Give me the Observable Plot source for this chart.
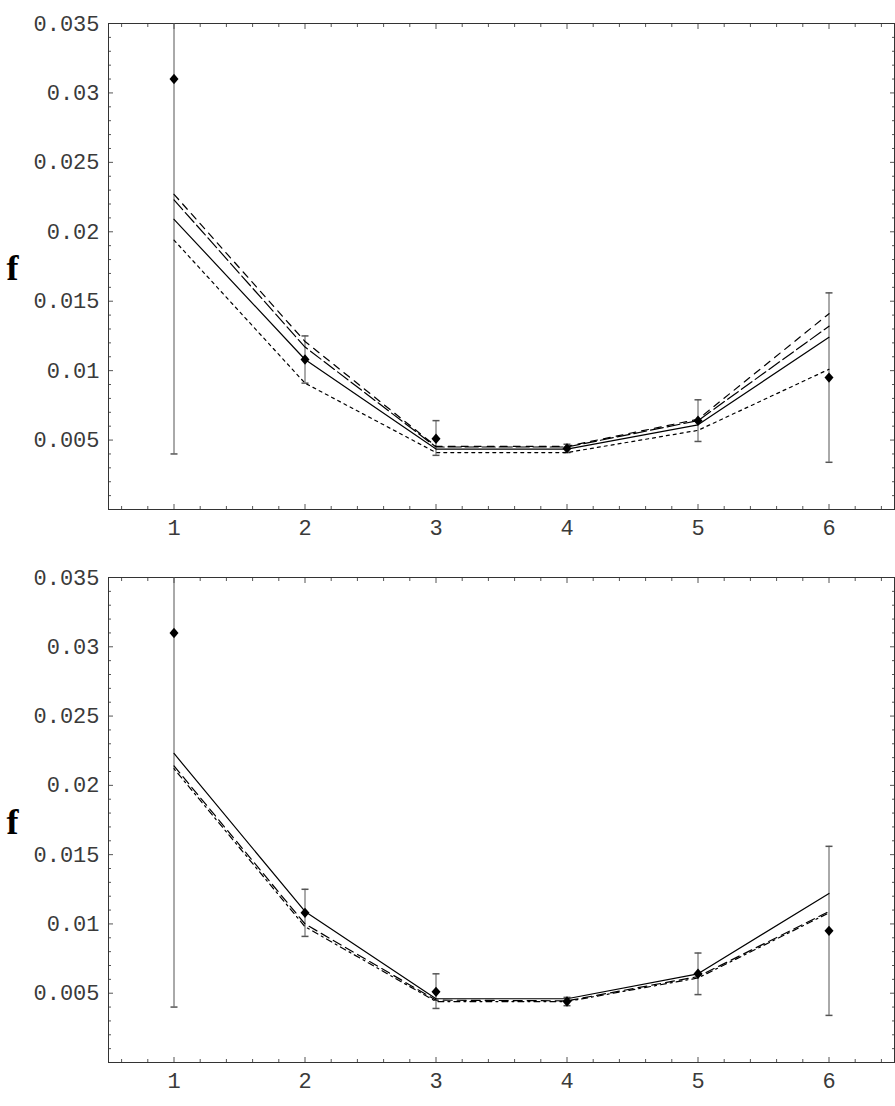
<!DOCTYPE html>
<html>
<head>
<meta charset="utf-8">
<script src="https://cdn.jsdelivr.net/npm/d3@7"></script>
<script src="https://cdn.jsdelivr.net/npm/@observablehq/plot@0.6"></script>
<style>
  html, body { margin: 0; padding: 0; background: #fff; }
  #chart svg { display: block; }
</style>
</head>
<body>
<div id="chart"></div>
<script>
// ---- data ----
const xs = [1, 2, 3, 4, 5, 6];
const fMeas = [0.031, 0.0108, 0.0051, 0.0044, 0.0064, 0.0095];
const fLow  = [0.004, 0.0091, 0.0039, 0.0041, 0.0049, 0.0034];
const fHigh = [0.058, 0.0125, 0.0064, 0.0047, 0.0079, 0.0156];

// top panel curves
const topSolid   = [0.0209, 0.0108, 0.00435, 0.00435, 0.0061, 0.0124];
const topShort   = [0.0194, 0.0091, 0.0041, 0.0041, 0.0057, 0.0101];
const topMedium  = [0.0227, 0.0121, 0.00455, 0.00455, 0.0065, 0.0141];
const topLong    = [0.0223, 0.0117, 0.0045, 0.0045, 0.0064, 0.0132];

// bottom panel curves
const botSolid   = [0.0223, 0.0109, 0.0046, 0.0046, 0.0064, 0.0122];
const botDashA   = [0.0214, 0.0100, 0.0045, 0.00445, 0.0062, 0.0109];
const botDashB   = [0.0212, 0.0098, 0.0044, 0.0044, 0.0061, 0.0108];

// axes
const yMajor = [0.005, 0.01, 0.015, 0.02, 0.025, 0.03, 0.035];
const yMinor = d3.range(1, 35).filter(i => i % 5 !== 0).map(i => i / 1000);
const xMajor = [1, 2, 3, 4, 5, 6];
const xMinor = d3.range(3, 33).filter(i => i % 5 !== 0).map(i => i / 5);

const measured = xs.map((x, i) => ({x, f: fMeas[i], lo: fLow[i], hi: fHigh[i]}));
function series(vals, name) { return xs.map((x, i) => ({x, f: vals[i], s: name})); }

const diamond = {
  draw(ctx, size) {
    const w = 4.5, h = 5.2;
    ctx.moveTo(0, -h); ctx.lineTo(w, 0); ctx.lineTo(0, h); ctx.lineTo(-w, 0); ctx.closePath();
  }
};
const cap = {
  draw(ctx, size) { ctx.moveTo(-3.5, 0); ctx.lineTo(3.5, 0); }
};

const tickColor = "#555";

function panel(curves, marginTop) {
  const marks = [
    Plot.axisY({ticks: yMinor, anchor: "left", tickSize: -3, text: null, label: null, stroke: tickColor}),
    Plot.axisY({ticks: yMinor, anchor: "right", tickSize: -3, text: null, label: null, stroke: tickColor}),
    Plot.axisY({ticks: yMajor, anchor: "left", tickSize: -5, text: null, label: null, stroke: tickColor}),
    Plot.axisY({ticks: yMajor, anchor: "right", tickSize: -5, text: null, label: null, stroke: tickColor}),
    Plot.axisX({ticks: xMinor, anchor: "bottom", tickSize: -3, text: null, label: null, stroke: tickColor}),
    Plot.axisX({ticks: xMinor, anchor: "top", tickSize: -3, text: null, label: null, stroke: tickColor}),
    Plot.axisX({ticks: xMajor, anchor: "bottom", tickSize: -5, text: null, label: null, stroke: tickColor}),
    Plot.axisX({ticks: xMajor, anchor: "top", tickSize: -5, text: null, label: null, stroke: tickColor}),
    Plot.axisY({ticks: yMajor, anchor: "left", tickSize: 0, tickPadding: 9, label: null,
      tickFormat: d => String(d), fill: "#3a3a3a"}),
    Plot.axisX({ticks: xMajor, anchor: "bottom", tickSize: 0, tickPadding: 10, label: null,
      tickFormat: d => String(d), fill: "#3a3a3a"}),
    Plot.frame({stroke: "#333", strokeWidth: 1}),
    Plot.ruleX(measured, {x: "x", y1: "lo", y2: "hi", stroke: "#555", strokeWidth: 1, clip: true}),
    Plot.dot(measured, {x: "x", y: "lo", symbol: cap, stroke: "#555", fill: "none", clip: true}),
    Plot.dot(measured, {x: "x", y: "hi", symbol: cap, stroke: "#555", fill: "none", clip: true}),
    ...curves.map(c => Plot.line(series(c.vals, c.name), {
      x: "x", y: "f", stroke: "#000", strokeWidth: 1.2,
      strokeDasharray: c.dash, clip: true
    })),
    Plot.dot(measured, {x: "x", y: "f", symbol: diamond, fill: "#000", stroke: "none", clip: true}),
    Plot.text(["f"], {frameAnchor: "left", dx: -96, dy: 2, text: d => d,
      fontFamily: "Liberation Serif", fontWeight: "bold", fontSize: 36, fill: "#000", textAnchor: "middle"})
  ];
  return Plot.plot({
    width: 895,
    height: 553,
    marginLeft: 108,
    marginRight: 1,
    marginTop: marginTop,
    marginBottom: 44,
    style: {fontFamily: "Liberation Mono", fontSize: "22px", color: "#222", background: "#fff"},
    x: {domain: [0.5, 6.5], axis: null},
    y: {domain: [0, 0.035], axis: null},
    marks
  });
}

const topPanel = panel([
  {name: "solid", vals: topSolid, dash: null},
  {name: "short", vals: topShort, dash: "3,4"},
  {name: "medium", vals: topMedium, dash: "7,6"},
  {name: "long", vals: topLong, dash: "13,4"}
], 23);

const bottomPanel = panel([
  {name: "solid", vals: botSolid, dash: null},
  {name: "dashA", vals: botDashA, dash: "9,5"},
  {name: "dashB", vals: botDashB, dash: "2,4,6,4"}
], 24);

document.getElementById("chart").append(topPanel, bottomPanel);
</script>
</body>
</html>
